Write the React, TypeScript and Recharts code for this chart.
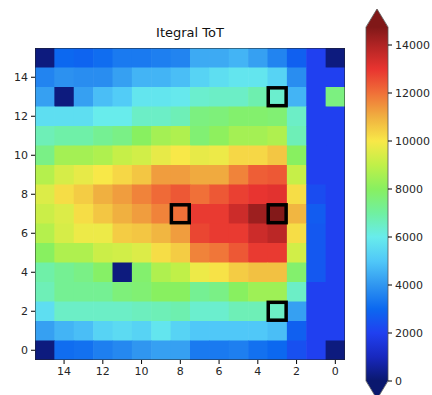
import React from "react";
import {
  ScatterChart,
  Scatter,
  XAxis,
  YAxis,
  BarChart,
  Bar,
} from "recharts";

// columns run x = 15 .. 0 (left to right as drawn), rows y = 15 .. 0 (top to bottom)
const colOrder = [15, 14, 13, 12, 11, 10, 9, 8, 7, 6, 5, 4, 3, 2, 1, 0];
const rowOrder = [15, 14, 13, 12, 11, 10, 9, 8, 7, 6, 5, 4, 3, 2, 1, 0];

const tot = [
  [200, 3000, 2900, 3100, 3400, 3400, 3500, 3600, 4400, 4400, 4600, 4200, 3600, 2800, 2000, 200],
  [3600, 3900, 3800, 3800, 4200, 4600, 4600, 4800, 5300, 5600, 5800, 5800, 5300, 3800, 2000, 2000],
  [4200, 200, 4200, 4800, 5100, 5800, 5800, 5900, 6400, 6500, 6500, 6800, 6400, 4600, 2000, 7500],
  [5600, 5600, 5600, 6000, 6000, 6500, 6500, 6700, 7500, 7600, 7800, 7800, 7700, 6500, 2000, 2000],
  [6700, 6900, 6900, 7200, 7400, 8000, 8500, 8700, 7700, 8100, 8500, 8500, 8700, 6700, 2000, 2000],
  [7400, 8500, 8500, 8700, 9100, 9300, 9700, 10000, 9700, 9800, 10300, 10300, 10600, 8000, 2000, 2000],
  [8800, 9400, 9700, 10000, 10300, 10600, 11300, 11300, 11100, 11100, 11700, 12300, 12400, 9100, 2000, 2000],
  [9500, 10200, 10500, 11000, 11300, 11700, 12100, 12400, 12000, 12400, 12800, 13000, 13100, 10200, 2300, 2000],
  [9200, 9500, 10200, 10600, 11000, 11300, 11700, 12000, 12900, 12900, 13500, 14300, 14700, 10900, 2700, 2000],
  [8800, 9400, 9800, 9800, 10500, 10600, 10900, 11300, 12700, 12900, 12900, 13500, 13800, 10200, 2600, 2000],
  [8000, 8700, 8700, 9200, 9300, 9500, 10200, 10500, 11700, 11900, 12400, 12900, 12900, 9300, 2600, 2000],
  [6900, 7200, 7400, 7900, 200, 7800, 8700, 9000, 9800, 10100, 10500, 10700, 10700, 7800, 2600, 2000],
  [6700, 7200, 7200, 7200, 7600, 7700, 8000, 8000, 7200, 7400, 8000, 8400, 8400, 6500, 2000, 2000],
  [5600, 6500, 6500, 6500, 6500, 6600, 6700, 6800, 6400, 6400, 6700, 6700, 6500, 4200, 2000, 2000],
  [4200, 4600, 4800, 5300, 5500, 5300, 5800, 5300, 5000, 5000, 5000, 5000, 4800, 2800, 2000, 2000],
  [200, 3100, 3200, 3500, 3700, 4000, 4200, 4200, 3400, 3400, 3500, 3200, 3000, 2400, 2000, 200],
];

const markedX = [3, 8, 3, 3];
const markedY = [13, 7, 7, 2];

const axisTicks = [0, 2, 4, 6, 8, 10, 12, 14];
const barTicks = [0, 2000, 4000, 6000, 8000, 10000, 12000, 14000];
const vmax = 14750;

// colour map
const cmapValues = [0, 1000, 2000, 3000, 4000, 5000, 6000, 7000, 8000, 9000, 10000, 11000, 12000, 13000, 14000, 14750];
const cmapColors = [
  [10, 24, 110], [24, 40, 190], [32, 64, 240], [12, 104, 240], [48, 150, 240],
  [80, 200, 248], [104, 236, 236], [112, 240, 160], [136, 240, 96], [192, 240, 72],
  [248, 232, 72], [240, 176, 64], [240, 112, 56], [232, 52, 48], [176, 36, 36], [128, 24, 24],
];

function colorFor(v: number): string {
  const c = Math.max(0, Math.min(vmax, v));
  let i = 0;
  while (i < cmapValues.length - 2 && c > cmapValues[i + 1]) i++;
  const t = (c - cmapValues[i]) / (cmapValues[i + 1] - cmapValues[i]);
  const a = cmapColors[i];
  const b = cmapColors[i + 1];
  const mix = (k: number) => Math.round(a[k] + (b[k] - a[k]) * t);
  return `rgb(${mix(0)},${mix(1)},${mix(2)})`;
}

const cells = rowOrder.flatMap((y, r) =>
  colOrder.map((x, c) => ({ x, y, v: tot[r][c] }))
);
const marks = markedX.map((x, i) => ({ x, y: markedY[i] }));
// centre of the grid, used to draw the frame around the image
const frame = [{ x: 7.5, y: 7.5 }];

const W = 360;
const H = 395;
const M = { top: 48, right: 15, bottom: 0, left: 0 };
const Y_W = 35;
const X_H = 35;
const cellW = (W - M.left - M.right - Y_W) / 16;
const cellH = (H - M.top - M.bottom - X_H) / 16;

const CellShape = (props: any) => {
  const { cx, cy } = props;
  const p = props.payload ?? props;
  return (
    <rect
      x={cx - cellW / 2}
      y={cy - cellH / 2}
      width={cellW + 0.6}
      height={cellH + 0.6}
      fill={colorFor(p.v)}
    />
  );
};

const MarkShape = (props: any) => {
  const { cx, cy } = props;
  const s = cellW - 1.5;
  return (
    <rect
      x={cx - s / 2}
      y={cy - s / 2}
      width={s}
      height={s}
      fill="none"
      stroke="#000"
      strokeWidth={3.5}
    />
  );
};

const FrameShape = (props: any) => {
  const { cx, cy } = props;
  return (
    <rect
      x={cx - cellW * 8}
      y={cy - cellH * 8}
      width={cellW * 16}
      height={cellH * 16}
      fill="none"
      stroke="#222"
      strokeWidth={1}
    />
  );
};

const tickStyle = { fontSize: 11, fill: "#262626" };

const ColorBarShape = (props: any) => {
  const { x, y, width, height } = props;
  const tip = 18;
  const outline = `M${x},${y} L${x + width / 2},${y - tip} L${x + width},${y} L${x + width},${y + height} L${x + width / 2},${y + height + tip} L${x},${y + height} Z`;
  return (
    <g>
      <polygon
        points={`${x},${y + 0.5} ${x + width / 2},${y - tip} ${x + width},${y + 0.5}`}
        fill={colorFor(vmax)}
      />
      <rect x={x} y={y} width={width} height={height} fill="url(#cbGrad)" />
      <polygon
        points={`${x},${y + height - 0.5} ${x + width / 2},${y + height + tip} ${x + width},${y + height - 0.5}`}
        fill={colorFor(0)}
      />
      <path d={outline} fill="none" stroke="#555" strokeWidth={0.8} />
    </g>
  );
};

export default function App() {
  return (
    <div
      style={{
        position: "absolute",
        left: 0,
        top: 0,
        width: 432,
        height: 395,
        background: "#fff",
        fontFamily: "'DejaVu Sans', sans-serif",
      }}
    >
      <div
        style={{
          position: "absolute",
          left: 35,
          width: 310,
          top: 25,
          textAlign: "center",
          fontSize: 13,
          color: "#111",
        }}
      >
        Itegral ToT
      </div>
      <div style={{ position: "absolute", left: 0, top: 0 }}>
        <ScatterChart width={W} height={H} margin={M}>
          <XAxis
            type="number"
            dataKey="x"
            domain={[-0.5, 15.5]}
            ticks={axisTicks}
            reversed
            allowDataOverflow
            height={X_H}
            tick={tickStyle}
            tickSize={4}
            tickMargin={3}
            stroke="#000"
            axisLine={false}
          />
          <YAxis
            type="number"
            dataKey="y"
            domain={[-0.5, 15.5]}
            ticks={axisTicks}
            allowDataOverflow
            width={Y_W}
            tick={tickStyle}
            tickSize={4}
            tickMargin={3}
            stroke="#000"
            axisLine={false}
          />
          <Scatter data={cells} shape={CellShape} isAnimationActive={false} />
          <Scatter data={marks} shape={MarkShape} isAnimationActive={false} />
          <Scatter data={frame} shape={FrameShape} isAnimationActive={false} />
        </ScatterChart>
      </div>
      <div style={{ position: "absolute", left: 340, top: 0 }}>
        <BarChart
          width={92}
          height={395}
          data={[{ name: "cb", v: vmax }]}
          margin={{ top: 27, right: 0, bottom: 14, left: 26 }}
          barCategoryGap={0}
        >
          <defs>
            <linearGradient id="cbGrad" x1="0" y1="0" x2="0" y2="1">
              {cmapValues
                .slice()
                .reverse()
                .map((v) => (
                  <stop key={v} offset={1 - v / vmax} stopColor={colorFor(v)} />
                ))}
            </linearGradient>
          </defs>
          <XAxis dataKey="name" hide />
          <YAxis
            orientation="right"
            type="number"
            domain={[0, vmax]}
            ticks={barTicks}
            width={44}
            tick={tickStyle}
            tickSize={4}
            tickMargin={3}
            stroke="#000"
            axisLine={false}
          />
          <Bar dataKey="v" shape={ColorBarShape} isAnimationActive={false} />
        </BarChart>
      </div>
    </div>
  );
}
